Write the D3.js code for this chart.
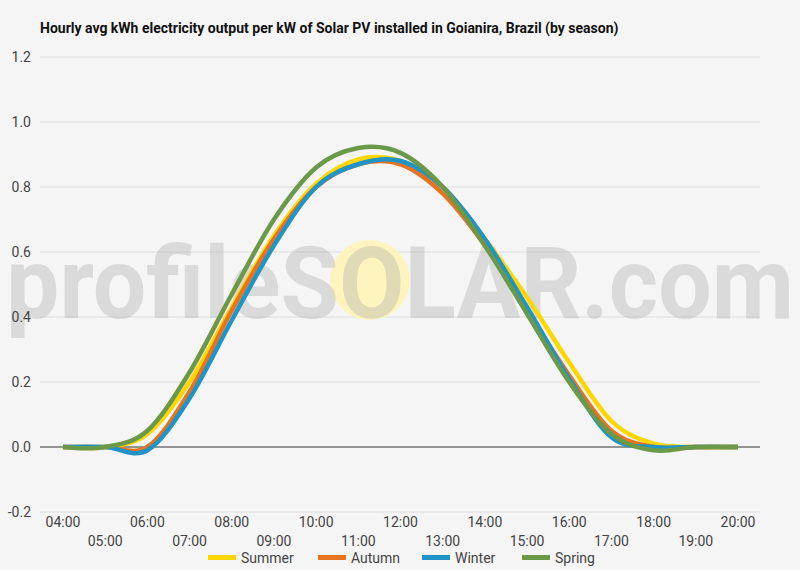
<!DOCTYPE html>
<html><head><meta charset="utf-8">
<script src="https://cdn.jsdelivr.net/npm/d3@7"></script>
<style>body{margin:0;background:#f5f5f5;font-family:Roboto,sans-serif}</style>
</head><body><svg id="c" width="800" height="570"></svg>
<script>
const hours=["04:00","05:00","06:00","07:00","08:00","09:00","10:00","11:00","12:00","13:00","14:00","15:00","16:00","17:00","18:00","19:00","20:00"];
const summer=[0,0,0.04,0.2,0.43,0.65,0.81,0.885,0.88,0.8,0.64,0.46,0.26,0.08,0.01,0,0];
const autumn=[0,0,0.0,0.17,0.42,0.64,0.8,0.87,0.87,0.78,0.62,0.42,0.22,0.05,0,0,0];
const winter=[0,0,-0.01,0.15,0.39,0.62,0.8,0.87,0.88,0.8,0.64,0.43,0.21,0.03,0,0,0];
const spring=[0,0,0.05,0.23,0.47,0.7,0.86,0.92,0.905,0.8,0.62,0.41,0.2,0.04,-0.01,0,0];
const seriesNames=["Summer","Autumn","Winter","Spring"];
const colors=["#ffd700","#e8731f","#1f94c8","#6a994a"];
const yTicks=[-0.2,0,0.2,0.4,0.6,0.8,1.0,1.2];
const data=[summer,autumn,winter,spring];
const svg=d3.select("#c");
svg.append("rect").attr("width",800).attr("height",570).attr("fill","#f5f5f5");
const x=d3.scalePoint().domain(hours).range([63,738]);
const y=d3.scaleLinear().domain([-0.2,1.2]).range([512,57]);
svg.append("text").attr("x",40).attr("y",33).attr("font-size",14).attr("font-weight","bold").attr("fill","#111")
 .text("Hourly avg kWh electricity output per kW of Solar PV installed in Goianira, Brazil (by season)");
yTicks.forEach(t=>{
 svg.append("line").attr("x1",40).attr("x2",760).attr("y1",y(t)).attr("y2",y(t)).attr("stroke",t===0?"#333":"#ddd");
});
// watermark
svg.append("circle").attr("cx",370).attr("cy",280).attr("r",40).attr("fill","#fff5b8").attr("opacity",0.9);
svg.append("text").attr("x",6).attr("y",318).attr("font-size",100).attr("font-weight","bold").attr("textLength",788).attr("lengthAdjust","spacingAndGlyphs").attr("fill","#aaa").attr("opacity",0.35).attr("font-family","Roboto, sans-serif").text("profileSOLAR.com");
yTicks.forEach(t=>{
 svg.append("text").attr("x",31).attr("y",y(t)+5).attr("text-anchor","end").attr("font-size",14).attr("fill","#444").text(t.toFixed(1));
});
hours.forEach((h,i)=>{
 svg.append("text").attr("x",x(h)).attr("y",i%2===0?527:546).attr("text-anchor","middle").attr("font-size",14).attr("fill","#444").text(h);
});
const line=d3.line().x((d,i)=>x(hours[i])).y(d=>y(d)).curve(d3.curveCardinal.tension(0));
data.forEach((s,k)=>svg.append("path").attr("d",line(s)).attr("fill","none").attr("stroke",colors[k]).attr("stroke-width",4.5));
const lx=[208,318,422,522];
seriesNames.forEach((n,k)=>{
 svg.append("rect").attr("x",lx[k]).attr("y",555).attr("width",28).attr("height",5).attr("fill",colors[k]);
 svg.append("text").attr("x",lx[k]+33).attr("y",563).attr("font-size",14).attr("fill","#444").text(n);
});
</script></body></html>
